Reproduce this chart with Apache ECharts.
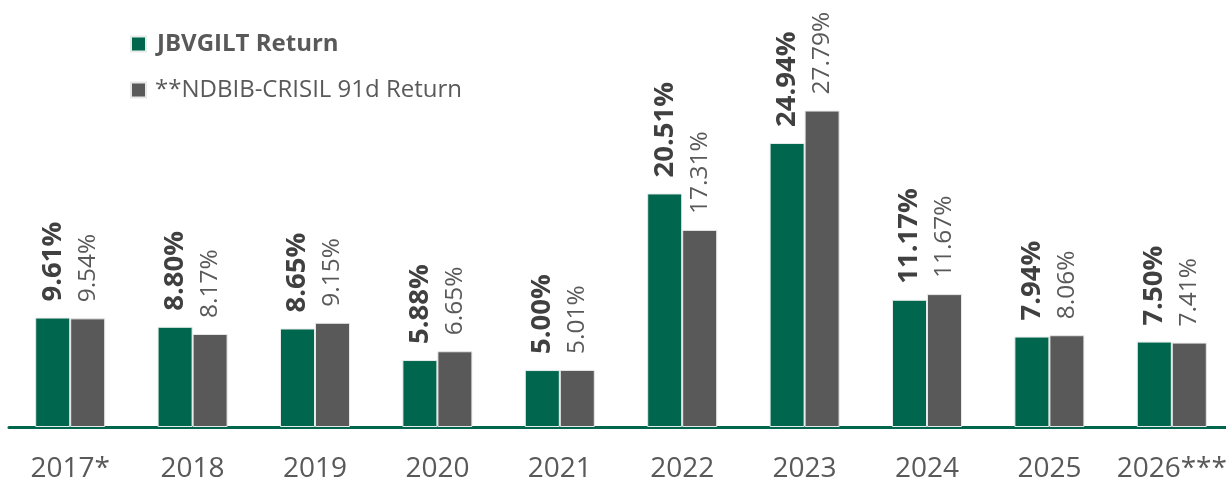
<!DOCTYPE html>
<html>
<head>
<meta charset="utf-8">
<script src="https://cdn.jsdelivr.net/npm/echarts@6/dist/echarts.min.js"></script>
<style>
  html, body { margin: 0; padding: 0; background: #fff; }
  #chart { width: 1226px; height: 479px; }
</style>
</head>
<body>
<div id="chart"></div>
<script>
const years = ['2017*', '2018', '2019', '2020', '2021', '2022', '2023', '2024', '2025', '2026***'];
const jbvgilt = [9.61, 8.80, 8.65, 5.88, 5.00, 20.51, 24.94, 11.17, 7.94, 7.50];
const ndbib = [9.54, 8.17, 9.15, 6.65, 5.01, 17.31, 27.79, 11.67, 8.06, 7.41];

const GREEN = '#00664d';
const GREY = '#595959';
const FONT = '"Open Sans", sans-serif';

const chart = echarts.init(document.getElementById('chart'));

function labelFor(bold) {
    return {
        show: true,
        position: 'top',
        distance: 16,
        rotate: 90,
        align: 'left',
        verticalAlign: 'middle',
        fontFamily: FONT,
        fontSize: bold ? 27.5 : 24.5,
        fontWeight: bold ? 'bold' : 'normal',
        color: bold ? '#404040' : GREY,
        formatter: (p) => p.value.toFixed(2) + '%',
    };
}

chart.setOption({
    animation: false,
    textStyle: { fontFamily: FONT },
    legend: {
        orient: 'vertical',
        left: 130,
        top: 32,
        padding: 0,
        itemWidth: 15,
        itemHeight: 15,
        itemGap: 22,
        icon: 'rect',
        textStyle: {
            fontFamily: FONT,
            fontSize: 24,
            color: GREY,
            padding: [0, 0, 0, 4],
            rich: {
                b: { fontFamily: FONT, fontSize: 24, fontWeight: 'bold', color: GREY, padding: [0, 0, 0, 2] },
            },
        },
        formatter: (name) => name.startsWith('JB') ? '{b|' + name + '}' : name,
        data: ['JBVGILT Return', '**NDBIB-CRISIL 91d Return'],
    },
    grid: { left: 9, right: -7, top: 0, bottom: 52, outerBoundsMode: 'none' },
    xAxis: {
        type: 'category',
        data: years,
        axisLine: { lineStyle: { color: GREEN, width: 3 } },
        axisTick: { show: false },
        axisLabel: { color: GREY, fontSize: 28, fontFamily: FONT, margin: 28, interval: 0 },
    },
    yAxis: {
        type: 'value',
        min: 0,
        max: 37.5,
        show: false,
        splitLine: { show: false },
    },
    series: [
        {
            name: 'JBVGILT Return',
            type: 'bar',
            data: jbvgilt,
            barWidth: 35,
            barGap: '0%',
            itemStyle: { color: GREEN, borderColor: '#e6ece9', borderWidth: 1 },
            label: labelFor(true),
        },
        {
            name: '**NDBIB-CRISIL 91d Return',
            type: 'bar',
            data: ndbib,
            barWidth: 35,
            itemStyle: { color: GREY, borderColor: '#e8e8e8', borderWidth: 1 },
            label: labelFor(false),
        },
    ],
});
</script>
</body>
</html>
